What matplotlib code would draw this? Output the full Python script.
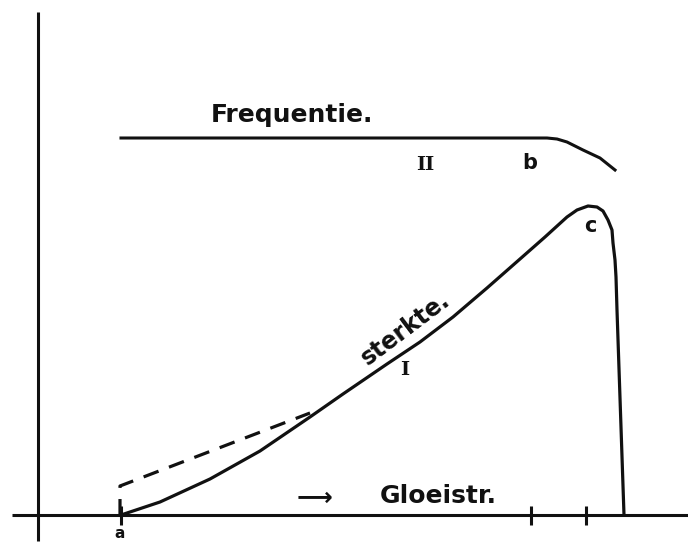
import matplotlib
matplotlib.use("Agg")
import matplotlib.pyplot as plt

# glow current (x) against light output; units are arbitrary
sterkte_x = [8.3, 12.2, 17.2, 22.2, 27.2, 30.5, 34.9, 38.2, 41.5, 44.9, 48.2, 50.7,
             52.9, 53.9, 55.0, 55.9, 56.5, 57.0, 57.4, 57.5, 57.7, 57.8, 57.9, 58.6]
sterkte_y = [0.0, 1.3, 3.6, 6.4, 9.8, 12.1, 15.1, 17.3, 19.8, 22.7, 25.6, 27.8,
             29.8, 30.5, 30.9, 30.8, 30.4, 29.5, 28.5, 27.2, 25.5, 23.8, 20.5, 0.0]

# dashed start of the sterkte curve
dash_x = [8.2, 8.2, 27.2]
dash_y = [0.0, 2.9, 10.2]

# frequency stays flat until b, then drops
freq_x = [8.3, 50.9, 51.9, 52.9, 54.5, 56.2, 57.7]
freq_y = [37.7, 37.7, 37.6, 37.3, 36.5, 35.7, 34.5]

tick_x = [8.3, 49.3, 54.8]

ink = "#111111"

fig = plt.figure(figsize=(6.88, 5.44), dpi=100)
ax = fig.add_axes([0, 0, 1, 1])
ax.set_xlim(-3.8, 65)
ax.set_ylim(-2.9, 51.5)
ax.axis("off")

# hand drawn axes
ax.plot([0, 0], [50.3, -2.6], color=ink, lw=2.2, solid_capstyle="butt")
ax.plot([-2.6, 65], [0, 0], color=ink, lw=2.2, solid_capstyle="butt")
ax.vlines(tick_x, -0.95, 0.9, color=ink, lw=2.2)

ax.plot(sterkte_x, sterkte_y, color=ink, lw=2.3, solid_joinstyle="round")
ax.plot(dash_x, dash_y, color=ink, lw=2.3, dashes=(5, 3.5))
ax.plot(freq_x, freq_y, color=ink, lw=2.2, solid_joinstyle="round")

txt = dict(color=ink, fontweight="bold", family="DejaVu Sans")
roman = dict(color=ink, fontweight="bold", family="DejaVu Serif")
ax.text(25.4, 40.0, "Frequentie.", fontsize=18, ha="center", va="center", **txt)
ax.text(38.7, 35.0, "II", fontsize=14, ha="center", va="center", **roman)
ax.text(49.2, 35.2, "b", fontsize=15, ha="center", va="center", **txt)
ax.text(55.2, 28.9, "c", fontsize=15, ha="center", va="center", **txt)
ax.text(36.7, 18.6, "sterkte.", fontsize=17, ha="center", va="center",
        rotation=37, rotation_mode="anchor", **txt)
ax.text(36.7, 14.5, "I", fontsize=14, ha="center", va="center", **roman)
ax.text(27.7, 1.7, "\u27f6", fontsize=18, ha="center", va="center", **txt)
ax.text(40.0, 1.9, "Gloeistr.", fontsize=18, ha="center", va="center", **txt)
ax.text(8.2, -1.8, "a", fontsize=11, ha="center", va="center", **txt)

fig.savefig("out.png", dpi=100, facecolor="white")
